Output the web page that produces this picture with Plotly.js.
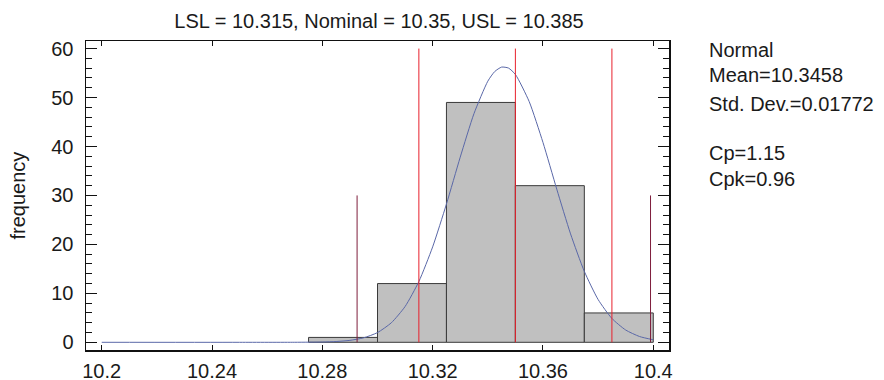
<!DOCTYPE html>
<html>
<head>
<meta charset="utf-8">
<script src="https://cdn.plot.ly/plotly-3.0.1.min.js"></script>
<style>html,body{margin:0;padding:0;background:#fff;}#chart{width:884px;height:380px;}</style>
</head>
<body>
<div id="chart"></div>
<script>
// ---- data ----
const binStarts = [10.275, 10.300, 10.325, 10.350, 10.375];
const binWidth = 0.025;
const counts = [1, 12, 49, 32, 6];

const specLabels = ["LSL", "Nominal", "USL"];
const specValues = [10.315, 10.35, 10.385];
const specLineTop = 60;

const sigmaLimits = [10.2926, 10.3990];
const sigmaLineTop = 30;

// fitted normal curve (Mean=10.3458, Std. Dev.=0.01772), scaled to counts
const curveX = [10.20, 10.25, 10.27, 10.28, 10.285, 10.29, 10.295, 10.30, 10.305, 10.31, 10.315, 10.32,
                10.325, 10.33, 10.335, 10.34, 10.3425, 10.345, 10.3475, 10.35, 10.355, 10.36, 10.365, 10.37,
                10.375, 10.38, 10.385, 10.39, 10.395, 10.40];
const curveY = [0, 0, 0.01, 0.06, 0.16, 0.40, 0.92, 1.99, 3.98, 7.31, 12.42, 19.50,
                28.25, 37.82, 46.74, 53.34, 55.31, 56.22, 56.02, 54.72, 49.18, 40.83, 31.29, 22.15,
                14.48, 8.74, 4.87, 2.51, 1.19, 0.52];

const statsLines = ["Normal", "Mean=10.3458", "Std. Dev.=0.01772", "", "Cp=1.15", "Cpk=0.96"];
const xTicks = [10.2, 10.24, 10.28, 10.32, 10.36, 10.4];
const yTicks = [0, 10, 20, 30, 40, 50, 60];

// ---- traces ----
const traces = [];
traces.push({
  type: "bar", x: binStarts, y: counts, width: binStarts.map(() => binWidth), offset: 0,
  marker: {color: "#c0c0c0", line: {color: "#3a3a3a", width: 1}},
  hoverinfo: "x+y", showlegend: false
});
traces.push({
  type: "scatter", mode: "lines", x: curveX, y: curveY,
  line: {color: "#5a68a8", width: 1, shape: "spline", smoothing: 0.6},
  showlegend: false, hoverinfo: "skip"
});
specValues.forEach(v => traces.push({
  type: "scatter", mode: "lines", x: [v, v], y: [0, specLineTop],
  line: {color: "#e8202c", width: 1}, showlegend: false, hoverinfo: "skip"
}));
sigmaLimits.forEach(v => traces.push({
  type: "scatter", mode: "lines", x: [v, v], y: [0, sigmaLineTop],
  line: {color: "#7e1e3c", width: 1}, showlegend: false, hoverinfo: "skip"
}));
// invisible trace to activate the mirrored right axis (for its minor ticks)
traces.push({type: "scatter", mode: "lines", x: [xTicks[0]], y: [yTicks[0]], yaxis: "y2",
  line: {width: 0}, showlegend: false, hoverinfo: "skip"});

const fontFam = "Liberation Sans, Arial, sans-serif";
const FS = 20;
const titleText = specLabels.map((l, i) => l + " = " + specValues[i]).join(", ");

const annotations = [];
const lineYpx = [50, 75.5, 104, 128, 152.5, 179.5];
statsLines.forEach((t, i) => {
  if (!t) return;
  annotations.push({
    text: t, xref: "paper", yref: "paper",
    x: (707 - 86) / 583, y: (350 - lineYpx[i]) / 309,
    xanchor: "left", yanchor: "middle", showarrow: false,
    font: {family: fontFam, size: FS, color: "#1a1a1a"}
  });
});
annotations.push({
  text: "frequency", xref: "paper", yref: "paper",
  x: (17 - 86) / 583, y: 0.5, xanchor: "center", yanchor: "middle",
  textangle: -90, showarrow: false,
  font: {family: fontFam, size: FS, color: "#1a1a1a"}
});

const yRange = [-1.57, 61.55];
const layout = {
  width: 884, height: 380,
  margin: {l: 86, r: 215, t: 41, b: 30},
  paper_bgcolor: "#fff", plot_bgcolor: "#fff",
  font: {family: fontFam, size: FS, color: "#1a1a1a"},
  bargap: 0,
  title: {text: titleText, x: 379 / 884, xanchor: "center", y: 1 - 21 / 380, yanchor: "middle", yref: "container",
          font: {family: fontFam, size: FS, color: "#1a1a1a"}},
  xaxis: {
    range: [10.1943, 10.4057], tickvals: xTicks, ticktext: xTicks.map(String),
    ticks: "inside", ticklen: 5, tickwidth: 1, tickcolor: "#111",
    showline: true, linecolor: "#111", linewidth: 1.5, mirror: "ticks",
    showgrid: false, zeroline: false, ticklabelstandoff: 2,
    tickfont: {family: fontFam, size: FS, color: "#1a1a1a"}
  },
  yaxis: {
    range: yRange, tickvals: yTicks,
    ticks: "inside", ticklen: 11, tickwidth: 1, tickcolor: "#111",
    minor: {dtick: 2, tick0: 0, ticks: "inside", ticklen: 6, tickwidth: 1, tickcolor: "#111", showgrid: false},
    showline: true, linecolor: "#111", linewidth: 1.5, mirror: true,
    showgrid: false, zeroline: false, ticklabelstandoff: 7,
    tickfont: {family: fontFam, size: FS, color: "#1a1a1a"}
  },
  yaxis2: {
    overlaying: "y", side: "right", range: yRange, tickvals: yTicks, showticklabels: false,
    ticks: "inside", ticklen: 11, tickwidth: 1, tickcolor: "#111",
    minor: {dtick: 2, tick0: 0, ticks: "inside", ticklen: 6, tickwidth: 1, tickcolor: "#111", showgrid: false},
    showline: false, showgrid: false, zeroline: false
  },
  annotations: annotations
};

Plotly.newPlot("chart", traces, layout, {displayModeBar: false, staticPlot: true});
</script>
</body>
</html>
